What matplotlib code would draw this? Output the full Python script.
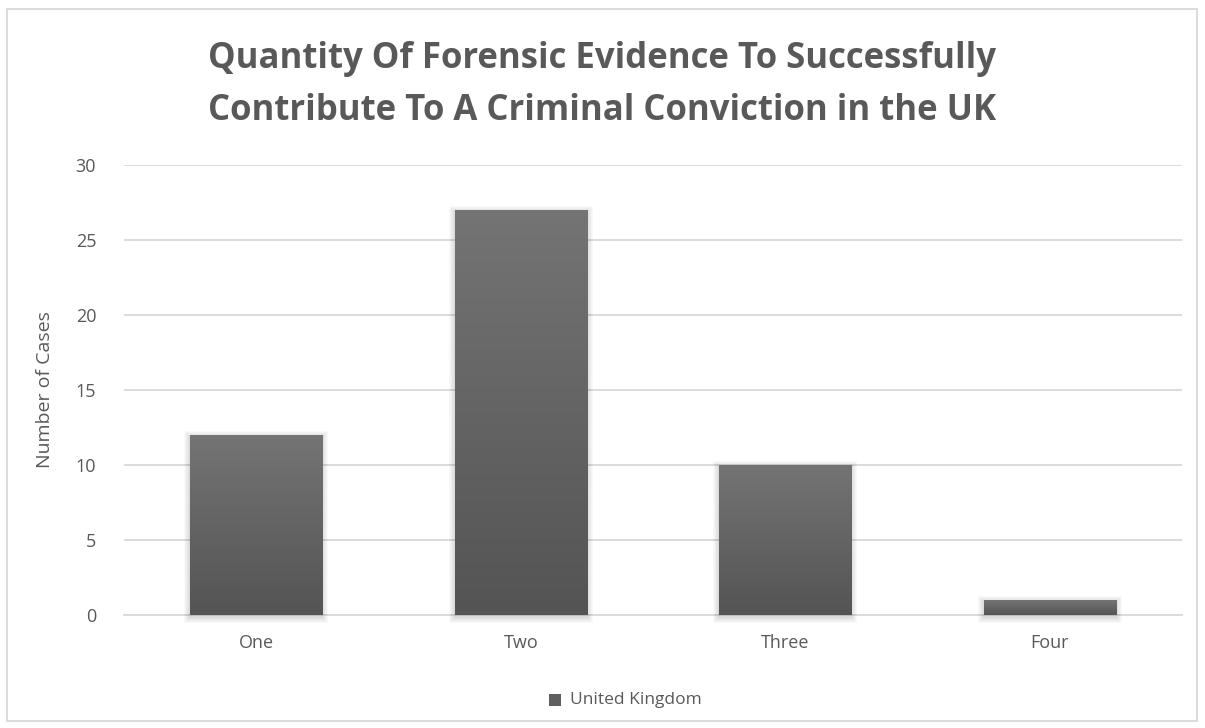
import matplotlib
matplotlib.use("Agg")
import matplotlib.pyplot as plt
import numpy as np
from matplotlib.patches import Rectangle
from matplotlib.colors import LinearSegmentedColormap

categories = ["One", "Two", "Three", "Four"]
values = [12, 27, 10, 1]
series_name = "United Kingdom"
title = "Quantity Of Forensic Evidence To Successfully\nContribute To A Criminal Conviction in the UK"
ylabel = "Number of Cases"
yticks = [0, 5, 10, 15, 20, 25, 30]

TXT = "#595959"
GRID = "#d9d9d9"
FONT = "Open Sans"

fig = plt.figure(figsize=(12.05, 7.28), dpi=100)
fig.patch.set_facecolor("white")
ax = fig.add_axes([124/1205, 1-615/728, (1182-124)/1205, (615-165)/728])

x = np.arange(len(categories))
width = 0.5
bars = ax.bar(x, values, width=width, color="none", zorder=3)

ax.set_xlim(-0.5, len(categories) - 0.5)
ax.set_ylim(0, 30)

# pixel sizes in data units
px_x = 1.0 / 264.5
px_y = 30.0 / 450.0

grad = np.linspace(0, 1, 256).reshape(-1, 1)
cmap = LinearSegmentedColormap.from_list("g", ["#545454", "#747474"])
for b in bars:
    x0, y0 = b.get_x(), b.get_y()
    w, h = b.get_width(), b.get_height()
    # soft shadow (blur approximation)
    for k in range(6, 0, -1):
        dx = k * px_x
        dy = k * px_y
        ax.add_patch(Rectangle((x0 - dx, y0 - dy - 1.5 * px_y), w + 2 * dx, h + 2 * dy,
                               facecolor="black", alpha=0.022, edgecolor="none",
                               zorder=2.5, clip_on=False))
    ax.imshow(grad, cmap=cmap, origin="lower", aspect="auto",
              extent=[x0, x0 + w, y0, y0 + h], zorder=3, interpolation="bicubic")

ax.set_xlim(-0.5, len(categories) - 0.5)
ax.set_ylim(0, 30)
ax.set_yticks(yticks)
ax.set_xticks(x)
ax.set_xticklabels(categories)
ax.yaxis.grid(True, color=GRID, linewidth=1.3, zorder=0)
ax.set_axisbelow(True)
for s in ["top", "right", "left"]:
    ax.spines[s].set_visible(False)
ax.spines["bottom"].set_color(GRID)
ax.spines["bottom"].set_linewidth(1.3)
ax.spines["bottom"].set_zorder(1)
ax.tick_params(axis="both", length=0, colors=TXT, labelsize=13, pad=20)
ax.tick_params(axis="x", pad=14)
for lab in ax.get_xticklabels() + ax.get_yticklabels():
    lab.set_fontfamily(FONT)

fig.text(45/1205, 1-390/728, ylabel, rotation=90, ha="center", va="center",
         color=TXT, fontsize=14, fontfamily=FONT)

fig.text(0.5, 1-85/728, title, ha="center", va="center", color=TXT,
         fontsize=25, fontweight="bold", fontfamily=FONT, linespacing=1.6)

# legend
fig.patches.append(Rectangle((549/1205, 1-706/728), 12/1205, 12/728, transform=fig.transFigure,
                             facecolor="#5f5f5f", edgecolor="none"))
fig.text(570/1205, 1-700/728, series_name, ha="left", va="center", color=TXT,
         fontsize=12.5, fontfamily=FONT)

# chart border
fig.patches.append(Rectangle((7/1205, 1-721/728), 1190/1205, 712/728, transform=fig.transFigure,
                             facecolor="none", edgecolor=GRID, linewidth=1.3))

fig.savefig("out.png", dpi=100)
